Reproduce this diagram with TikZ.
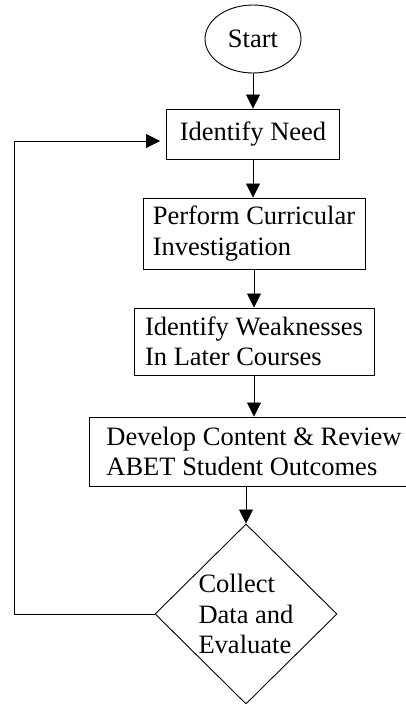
\documentclass[tikz,border=0pt]{standalone}
\usepackage{fontspec}
\setmainfont{Liberation Serif}
\usetikzlibrary{shapes.geometric,arrows.meta}

\begin{document}
\begin{tikzpicture}
  [x=1pt,y=-1pt,
   every node/.style={draw=black, line width=0.9pt, inner sep=0pt, align=left,
     font=\fontsize{26.5}{30.5}\selectfont},
   stepbox/.style={rectangle},
   arr/.style={line width=0.8pt, -{Triangle[length=14pt,width=14pt]}}]
  \useasboundingbox (0,0) rectangle (406,704);

  \node (start) [ellipse, minimum width=96pt, minimum height=68pt] at (253,39) {Start};
  \node (need) [stepbox, minimum width=173pt, minimum height=50pt] at (253,134) {Identify Need};
  \node (perf) [stepbox, minimum width=222pt, minimum height=71pt] at (254,233.5) {Perform Curricular\\Investigation};
  \node (weak) [stepbox, minimum width=240pt, minimum height=67pt] at (254,341.5) {Identify Weaknesses\\In Later Courses};
  \node (dev) [stepbox, minimum width=330pt, minimum height=69pt] at (254,451.5) {Develop Content \& Review\\ABET Student Outcomes};
  \node (dia) [diamond, minimum width=182pt, minimum height=180pt] at (246,614) {Collect\\Data and\\Evaluate};

  \foreach \from / \to in {start/need, need/perf, perf/weak, weak/dev}
    \draw[arr] (\from.south) -- (\from.south |- \to.north);
  \draw[arr] (dev.south -| dia.north) -- (dia.north);
  \draw[arr, shorten >=6pt] (dia.west) -- ++(-140,0) |- ([yshift=-7pt]need.west);

\end{tikzpicture}
\end{document}
